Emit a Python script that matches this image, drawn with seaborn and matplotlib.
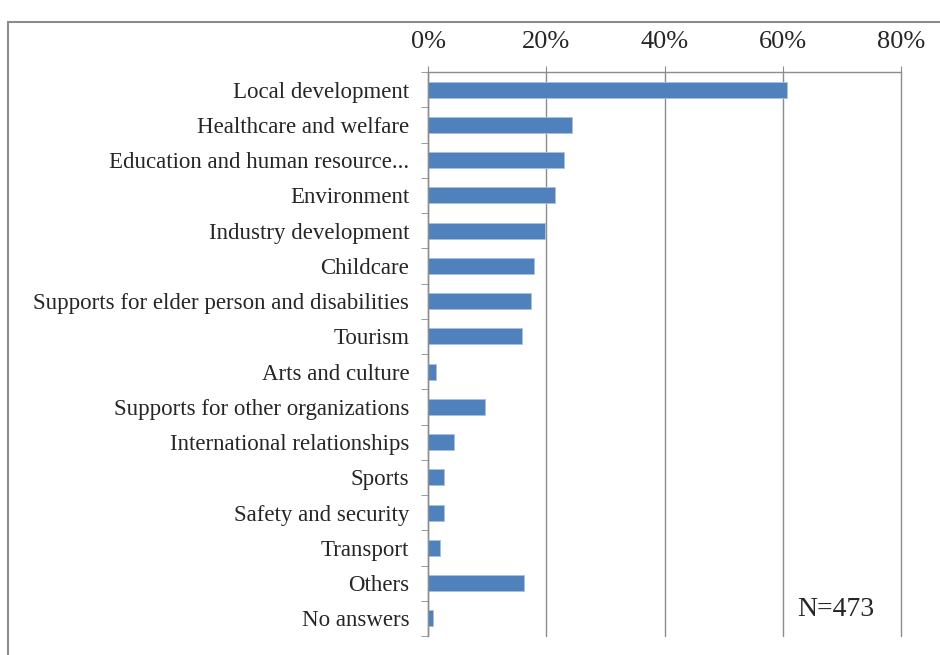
import matplotlib
matplotlib.use('Agg')
import matplotlib.pyplot as plt
import matplotlib.patches as patches
from matplotlib.ticker import FixedLocator, PercentFormatter
import seaborn as sns
import pandas as pd

# Survey categories and share of answers (%)
categories = [
    'Local development', 'Healthcare and welfare', 'Education and human resource...',
    'Environment', 'Industry development', 'Childcare',
    'Supports for elder person and disabilities', 'Tourism', 'Arts and culture',
    'Supports for other organizations', 'International relationships', 'Sports',
    'Safety and security', 'Transport', 'Others', 'No answers',
]
shares = [60.8, 24.4, 23.0, 21.4, 19.8, 18.0, 17.4, 15.9, 1.3, 9.6, 4.4, 2.7, 2.7, 2.0, 16.3, 0.8]
x_ticks = [0, 20, 40, 60, 80]
n_label = 'N=473'

df = pd.DataFrame({'category': categories, 'share': shares})

sns.set_style('white')
plt.rcParams['font.family'] = ['Liberation Serif', 'DejaVu Serif']

fig = plt.figure(figsize=(9.4, 6.55), dpi=100)
ax = fig.add_axes([428 / 940, 1 - 636 / 655, 473 / 940, 564 / 655])

# outer chart frame
fig.patches.append(patches.Rectangle((8 / 940, -0.1), 1.2, 1 - 22 / 655 + 0.1,
                                     transform=fig.transFigure, fill=False,
                                     edgecolor='#8c8c8c', linewidth=1.5))

sns.barplot(data=df, y='category', x='share', orient='h', color='#4F81BD',
            saturation=1, width=0.45, edgecolor='#a9c1e0', linewidth=0.6, ax=ax)

ax.set_xlim(0, 80)
ax.set_ylim(len(categories) - 0.5, -0.5)
ax.xaxis.set_major_locator(FixedLocator(x_ticks))
ax.xaxis.set_major_formatter(PercentFormatter(decimals=0))
ax.xaxis.tick_top()
ax.grid(axis='x', color='#8c8c8c', linewidth=1)
for gl in ax.get_xgridlines():
    gl.set_clip_on(False)
ax.set_axisbelow(True)
ax.tick_params(axis='x', which='major', top=True, length=4, color='#8c8c8c',
               labelsize=19, pad=10)
ax.tick_params(axis='y', which='major', left=False, labelsize=16.5, pad=10)
ax.yaxis.set_minor_locator(FixedLocator([i - 0.5 for i in range(len(categories) + 1)]))
ax.tick_params(axis='y', which='minor', left=True, length=5, color='#8c8c8c')
ax.set_xlabel('')
ax.set_ylabel('')

for side in ['right', 'bottom']:
    ax.spines[side].set_visible(False)
for side in ['top', 'left']:
    ax.spines[side].set_color('#8c8c8c')
    ax.spines[side].set_linewidth(1)

ax.text(62.5, 14.75, n_label, fontsize=20, ha='left', va='center')

fig.savefig('out.png', dpi=100)
